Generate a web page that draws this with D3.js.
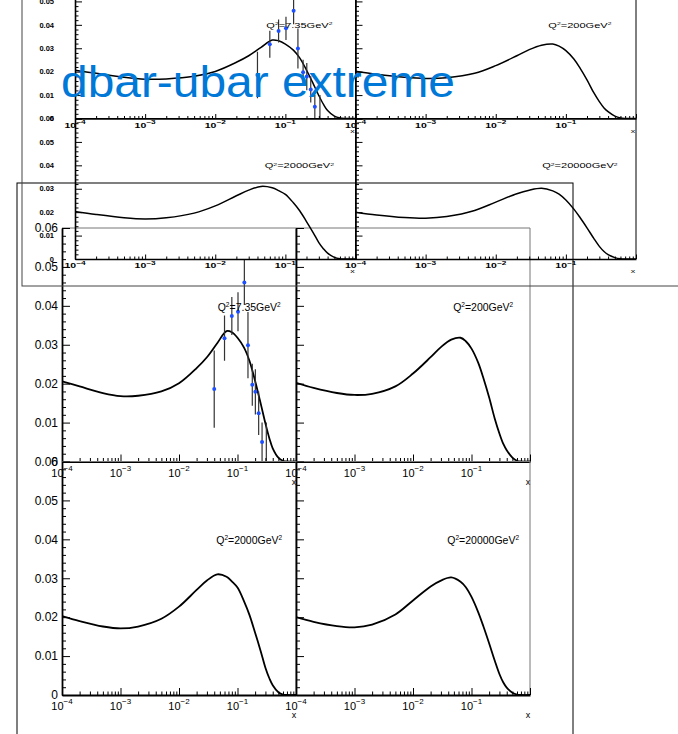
<!DOCTYPE html>
<html>
<head>
<meta charset="utf-8">
<script src="https://cdn.jsdelivr.net/npm/d3@7"></script>
<style>
  html, body { margin: 0; padding: 0; background: #fff; }
  svg { display: block; }
  text { font-family: "Liberation Sans", Arial, Helvetica, sans-serif; fill: #000; }
</style>
</head>
<body>
<svg id="chart" width="678" height="734"></svg>
<script>
// ---- data --------------------------------------------------------------
const q2Labels = ["7.35", "200", "2000", "20000"];

// x grid shared by the four curves
const xGrid = [1e-4, 2e-4, 5e-4, 1e-3, 2e-3, 5e-3, 1e-2, 2e-2, 3e-2, 4.5e-2, 6.5e-2,
               0.08, 0.1, 0.13, 0.16, 0.2, 0.25, 0.3, 0.35, 0.4, 0.5, 0.6, 0.7, 1];

// x(dbar - ubar) at each Q^2
const curveQ2_735 = [0.0206, 0.0193, 0.0176, 0.0168, 0.0169, 0.0180, 0.0201, 0.0240, 0.0268, 0.0304, 0.0335,
                     0.0332, 0.0318, 0.0292, 0.0259, 0.0207, 0.0148, 0.0098, 0.0060, 0.0034, 0.0010, 0.0002, 0.0, 0.0];
const curveQ2_200 = [0.0202, 0.0189, 0.0176, 0.0171, 0.0174, 0.0193, 0.0226, 0.0268, 0.0294, 0.0313, 0.0318,
                     0.0309, 0.0290, 0.0254, 0.0214, 0.0165, 0.0110, 0.0072, 0.0045, 0.0029, 0.0010, 0.0002, 0.0, 0.0];
const curveQ2_2000 = [0.0203, 0.0190, 0.0176, 0.0171, 0.0176, 0.0196, 0.0227, 0.0270, 0.0294, 0.0310, 0.0304,
                      0.0292, 0.0276, 0.0240, 0.0206, 0.0160, 0.0112, 0.0070, 0.0043, 0.0025, 0.0007, 0.0001, 0.0, 0.0];
const curveQ2_20000 = [0.0200, 0.0188, 0.0177, 0.0174, 0.0181, 0.0207, 0.0243, 0.0279, 0.0294, 0.0302, 0.0291,
                       0.0277, 0.0252, 0.0213, 0.0176, 0.0133, 0.0088, 0.0054, 0.0032, 0.0019, 0.0006, 0.0001, 0.0, 0.0];
const curves = [curveQ2_735, curveQ2_200, curveQ2_2000, curveQ2_20000];

// measured points at Q^2 = 7.35 GeV^2
const dataX   = [0.040, 0.060, 0.080, 0.102, 0.131, 0.151, 0.179, 0.202, 0.230, 0.263, 0.311];
const dataY   = [0.0186, 0.0317, 0.0374, 0.0385, 0.0460, 0.0299, 0.0197, 0.0179, 0.0124, 0.0050, -0.0005];
const dataErr = [0.0099, 0.0058, 0.0049, 0.0050, 0.0058, 0.0085, 0.0054, 0.0058, 0.0056, 0.0050, 0.0105];

// axis ticks
const yTicks = [0, 0.01, 0.02, 0.03, 0.04, 0.05, 0.06];
const yTickLabels = ["0", "0.01", "0.02", "0.03", "0.04", "0.05", "0.06"];
const xDecades = [1e-4, 1e-3, 1e-2, 1e-1, 1];
const xDecadeLabels = ["10", "10", "10", "10"];
const xDecadeExps = ["\u22124", "\u22123", "\u22122", "\u22121"];
const xTitle = "x";
const titleText = "dbar-ubar extreme";

// ---- drawing -------------------------------------------------------------
const svg = d3.select("#chart");
const defs = svg.append("defs");

const yMinor = d3.range(0, 0.0601, 0.002).filter(v => Math.abs(Math.round(v * 100) - v * 100) > 1e-6);
const xMinor = [];
xDecades.slice(0, 4).forEach(d => { for (let k = 2; k <= 9; k++) xMinor.push(d * k); });

function stretched(parent, tx, ty, sx, anchor, size) {
  return parent.append("text")
    .attr("transform", `translate(${tx},${ty}) scale(${sx},1)`)
    .attr("text-anchor", anchor)
    .attr("font-size", size);
}

function drawCanvas(o, id) {
  const g = svg.append("g");

  q2Labels.forEach((q, i) => {
    const col = i % 2, row = Math.floor(i / 2);
    const px = o.x0 + col * o.pw, py = o.y0 + row * o.ph;
    const x = d3.scaleLog().domain([1e-4, 1]).range([px, px + o.pw]);
    const y = d3.scaleLinear().domain([0, 0.06]).range([py + o.ph, py]);
    const pg = g.append("g");

    const cid = `clip-${id}-${i}`;
    defs.append("clipPath").attr("id", cid)
      .append("rect").attr("x", px).attr("y", py).attr("width", o.pw).attr("height", o.ph);

    // frame top / right
    pg.append("path")
      .attr("d", `M${px},${py}H${px + o.pw}V${py + o.ph}`)
      .attr("fill", "none").attr("stroke", o.frameColor).attr("stroke-width", 1);

    // curve
    const pts = xGrid.map((xv, k) => [xv, curves[i][k]]);
    pg.append("path")
      .datum(pts)
      .attr("clip-path", `url(#${cid})`)
      .attr("fill", "none").attr("stroke", "#000").attr("stroke-width", o.curveWidth)
      .attr("stroke-linejoin", "round")
      .attr("d", d3.line().x(d => x(d[0])).y(d => y(d[1])).curve(d3.curveCatmullRom.alpha(0.5)));

    // data points with error bars
    if (i === 0) {
      const dg = pg.append("g").attr("clip-path", `url(#${cid})`);
      const pd = dataX.map((xv, k) => ({ x: xv, y: dataY[k], e: dataErr[k] }));
      dg.selectAll("line.err").data(pd).join("line")
        .attr("x1", d => x(d.x)).attr("x2", d => x(d.x))
        .attr("y1", d => y(d.y - d.e)).attr("y2", d => y(d.y + d.e))
        .attr("stroke", "#333").attr("stroke-width", 1.2);
      dg.selectAll("circle").data(pd).join("circle")
        .attr("cx", d => x(d.x)).attr("cy", d => y(d.y)).attr("r", o.dotR)
        .attr("fill", "#1e50ff");
    }

    // y axis (ticks pointing inward)
    const ya = pg.append("g").attr("transform", `translate(${px},0)`)
      .call(d3.axisRight(y).tickValues(yTicks).tickSize(o.yMaj).tickSizeOuter(0).tickFormat(""));
    const yb = pg.append("g").attr("transform", `translate(${px},0)`)
      .call(d3.axisRight(y).tickValues(yMinor).tickSize(o.yMin).tickSizeOuter(0).tickFormat(""));
    yb.select(".domain").remove();
    ya.select(".domain").attr("stroke-width", o.axisWidth);

    // x axis
    const xa = pg.append("g").attr("transform", `translate(0,${py + o.ph})`)
      .call(d3.axisTop(x).tickValues(xDecades).tickSize(o.xMaj).tickSizeOuter(0).tickFormat(""));
    const xb = pg.append("g").attr("transform", `translate(0,${py + o.ph})`)
      .call(d3.axisTop(x).tickValues(xMinor).tickSize(o.xMin).tickSizeOuter(0).tickFormat(""));
    xb.select(".domain").remove();
    xa.select(".domain").attr("stroke-width", o.axisWidth);
    [ya, yb, xa, xb].forEach(a => a.selectAll(".tick line").attr("stroke", "#000"));

    // y labels on the left column
    if (col === 0) {
      yTicks.forEach((v, k) => {
        stretched(pg, px - o.yLabelGap, y(v) + o.yLabelSize * 0.36, 1, "end", o.yLabelSize)
          .attr("font-weight", o.labelWeight)
          .text(yTickLabels[k]);
      });
    }

    // x labels
    xDecadeLabels.forEach((lab, k) => {
      const t = stretched(pg, x(xDecades[k]), py + o.ph + o.xLabelDy, o.xStretch, "middle", o.xLabelSize)
        .attr("font-weight", o.labelWeight);
      t.append("tspan").text(lab);
      t.append("tspan").attr("font-size", o.xExpSize).attr("dy", -o.xExpRaise).text(xDecadeExps[k]);
    });

    // axis title
    stretched(pg, px + o.pw - o.xTitleInset, py + o.ph + o.xTitleDy, o.xStretch, "middle", o.xTitleSize)
      .text(xTitle);

    // Q^2 label
    const ql = stretched(pg, px + 0.80 * o.pw, py + 0.338 * o.ph + o.q2Size * 0.36, o.q2Stretch, "middle", o.q2Size);
    ql.append("tspan").text("Q");
    ql.append("tspan").attr("font-size", o.q2Size * 0.62).attr("dy", -o.q2Size * 0.4).text("2");
    ql.append("tspan").attr("dy", o.q2Size * 0.4).text(`=${q}GeV`);
    ql.append("tspan").attr("font-size", o.q2Size * 0.62).attr("dy", -o.q2Size * 0.4).text("2");
  });

  // canvas border
  g.append("rect")
    .attr("x", o.x0 - o.padL).attr("y", o.y0 - o.padT)
    .attr("width", 2 * o.pw + o.padL + o.padR).attr("height", 2 * o.ph + o.padT + o.padB)
    .attr("fill", "none").attr("stroke", o.borderColor).attr("stroke-width", 1);
}

// full-size canvas
drawCanvas({
  x0: 62, y0: 228, pw: 234, ph: 233.5,
  padL: 45, padT: 45, padR: 43, padB: 45,
  frameColor: "#777", borderColor: "#000", axisWidth: 1.8, curveWidth: 1.8, dotR: 2,
  yMaj: 8, yMin: 4, xMaj: 7, xMin: 3.5,
  yLabelSize: 12, yLabelGap: 4, labelWeight: "normal",
  xLabelSize: 11, xExpSize: 8, xExpRaise: 6, xLabelDy: 15, xStretch: 1,
  xTitleSize: 9, xTitleInset: 2, xTitleDy: 23,
  q2Size: 10.5, q2Stretch: 1
}, "big");

// reduced canvas drawn across the top
drawCanvas({
  x0: 75, y0: -22, pw: 280.5, ph: 140.5,
  padL: 53, padT: 27, padR: 52, padB: 27,
  frameColor: "#000", borderColor: "#444", axisWidth: 1.6, curveWidth: 1.5, dotR: 2,
  yMaj: 7, yMin: 3.5, xMaj: 4.5, xMin: 2.5,
  yLabelSize: 7.5, yLabelGap: 21, labelWeight: "bold",
  xLabelSize: 7, xExpSize: 5.5, xExpRaise: 3.5, xLabelDy: 9, xStretch: 1.5,
  xTitleSize: 6, xTitleInset: 3, xTitleDy: 14,
  q2Size: 6.5, q2Stretch: 1.7
}, "small");

// title
svg.append("text")
  .attr("x", 61).attr("y", 97)
  .attr("font-size", 45)
  .attr("textLength", 394).attr("lengthAdjust", "spacingAndGlyphs")
  .style("fill", "#0078d7")
  .text(titleText);
</script>
</body>
</html>
